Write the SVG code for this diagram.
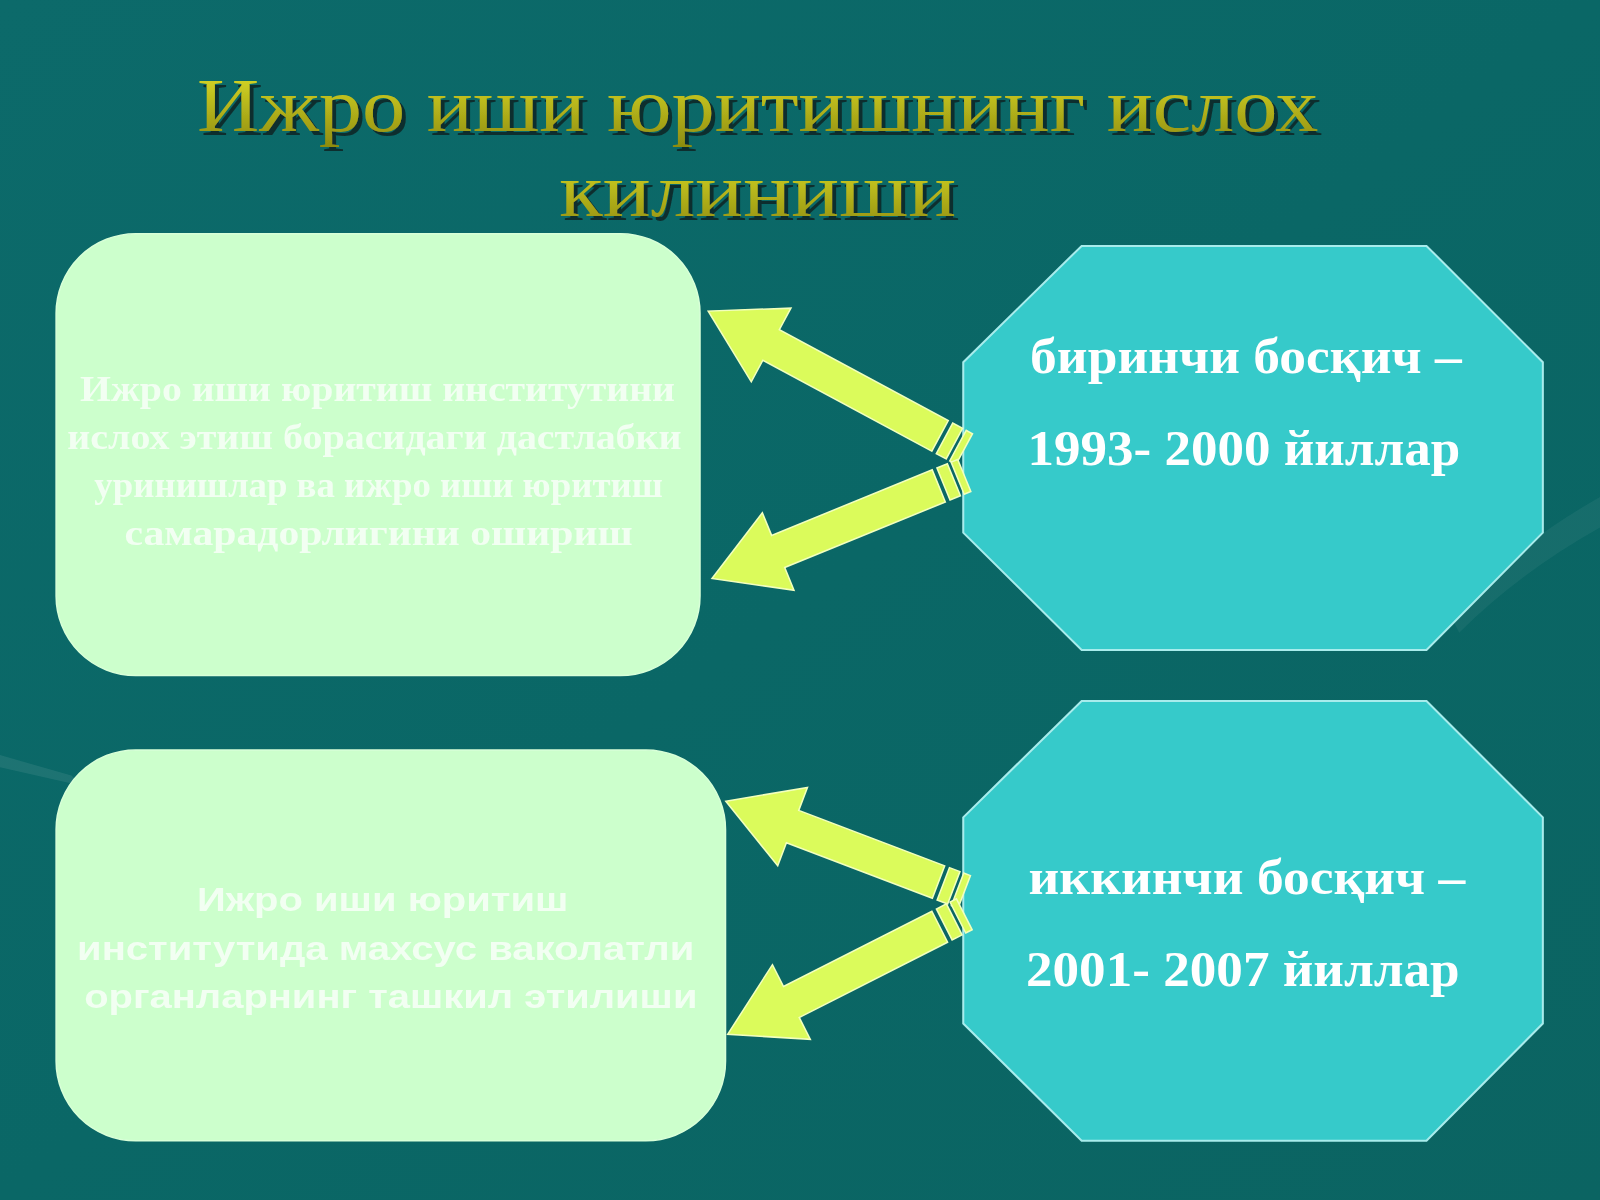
<svg xmlns="http://www.w3.org/2000/svg" width="1600" height="1200" viewBox="0 0 1600 1200">
<defs>
<linearGradient id="bg" x1="0" y1="0" x2="1" y2="1">
<stop offset="0" stop-color="#0c6a6a"/>
<stop offset="0.5" stop-color="#0a6766"/>
<stop offset="1" stop-color="#0b6462"/>
</linearGradient>
<linearGradient id="titleGrad" x1="0" y1="0" x2="0" y2="1">
<stop offset="0" stop-color="#e0e028"/>
<stop offset="1" stop-color="#8e8c10"/>
</linearGradient>
<filter id="tshadow" x="-5%" y="-20%" width="110%" height="150%">
<feOffset in="SourceAlpha" dx="4" dy="4" result="off"/>
<feFlood flood-color="#0d2f2f"/>
<feComposite in2="off" operator="in" result="sh"/>
<feMerge><feMergeNode in="sh"/><feMergeNode in="SourceGraphic"/></feMerge>
</filter>
<style>
.title{font-family:"Liberation Serif","DejaVu Serif",serif;font-size:74px;fill:url(#titleGrad);filter:url(#tshadow);}
.box{fill:#ccffcc;stroke:#d8ffd8;stroke-width:1.5;}
.oct{fill:#36caca;stroke:#a8ecec;stroke-width:2;}
.arrow{fill:#dbfb5b;stroke:#f2ffbe;stroke-width:1.5;}
.btxt1{font-family:"Liberation Serif","DejaVu Serif",serif;font-weight:bold;font-size:36px;fill:#ffffff;text-anchor:middle;opacity:0.75;}
.btxt2{font-family:"Liberation Sans","DejaVu Sans",sans-serif;font-weight:bold;font-size:32px;fill:#ffffff;text-anchor:middle;opacity:0.75;}
.otxt{font-family:"Liberation Serif","DejaVu Serif",serif;font-weight:bold;font-size:50px;fill:#ffffff;text-anchor:middle;}
</style>
</defs>
<rect x="0" y="0" width="1600" height="1200" fill="url(#bg)"/>
<g transform="scale(1.0204)">
<path d="M0,740 L70,760 L80,770 L0,752 Z" fill="#ffffff" opacity="0.08"/>
<path d="M1420,600 Q1500,520 1600,470 L1600,500 Q1500,550 1430,620 Z" fill="#ffffff" opacity="0.05"/>

<g id="title">
<text class="title" x="193" y="128" textLength="1099" lengthAdjust="spacingAndGlyphs">Ижро иши юритишнинг ислох</text>
<text class="title" x="548" y="212" textLength="389" lengthAdjust="spacingAndGlyphs">килиниши</text>
</g>

<g id="box1">
<rect class="box" x="55" y="229" width="631" height="433" rx="78" ry="78"/>
<text class="btxt1" x="370" y="393" textLength="583" lengthAdjust="spacingAndGlyphs">Ижро иши юритиш институтини</text>
<text class="btxt1" x="367" y="440" textLength="602" lengthAdjust="spacingAndGlyphs">ислох этиш борасидаги дастлабки</text>
<text class="btxt1" x="371" y="487" textLength="557" lengthAdjust="spacingAndGlyphs">уринишлар ва ижро иши юритиш</text>
<text class="btxt1" x="371" y="534" textLength="498" lengthAdjust="spacingAndGlyphs">самарадорлигини ошириш</text>
</g>

<g id="box2">
<rect class="box" x="55" y="735" width="656" height="383" rx="78" ry="78"/>
<text class="btxt2" x="375" y="893" textLength="364" lengthAdjust="spacingAndGlyphs">Ижро иши юритиш</text>
<text class="btxt2" x="378" y="941" textLength="605" lengthAdjust="spacingAndGlyphs">институтида махсус ваколатли</text>
<text class="btxt2" x="383" y="988" textLength="601" lengthAdjust="spacingAndGlyphs">органларнинг ташкил этилиши</text>
</g>

<g id="stage1">
<polygon class="oct" points="1060,241 1398,241 1512,355 1512,522 1398,637 1060,637 944,522 944,355"/>
<text class="otxt" x="1221" y="366" textLength="423" lengthAdjust="spacingAndGlyphs">биринчи босқич –</text>
<text class="otxt" x="1219" y="456" textLength="424" lengthAdjust="spacingAndGlyphs">1993- 2000 йиллар</text>
</g>

<g id="stage2">
<polygon class="oct" points="1060,687 1398,687 1512,801 1512,1003 1398,1118 1060,1118 944,1003 944,801"/>
<text class="otxt" x="1222" y="876" textLength="428" lengthAdjust="spacingAndGlyphs">иккинчи босқич –</text>
<text class="otxt" x="1218" y="966" textLength="425" lengthAdjust="spacingAndGlyphs">2001- 2007 йиллар</text>
</g>

<g id="connectors">
<path class="arrow" transform="translate(945,440) rotate(-151.7)" d="M0,-17h7v34h-7z M11,-17h11v34h-11z M27,-17 H215 V-41 L285,0 L215,41 V17 H27 Z"/>
<path class="arrow" transform="translate(945,466) rotate(157.8)" d="M0,-17h7v34h-7z M11,-17h11v34h-11z M27,-17 H197 V-41 L267,0 L197,41 V17 H27 Z"/>
<path class="arrow" transform="translate(945,874) rotate(-159.2)" d="M0,-17h7v34h-7z M11,-17h11v34h-11z M27,-17 H180 V-41 L250,0 L180,41 V17 H27 Z"/>
<path class="arrow" transform="translate(945,896) rotate(153.1)" d="M0,-17h7v34h-7z M11,-17h11v34h-11z M27,-17 H190 V-41 L260,0 L190,41 V17 H27 Z"/>
</g>
</g>
</svg>
